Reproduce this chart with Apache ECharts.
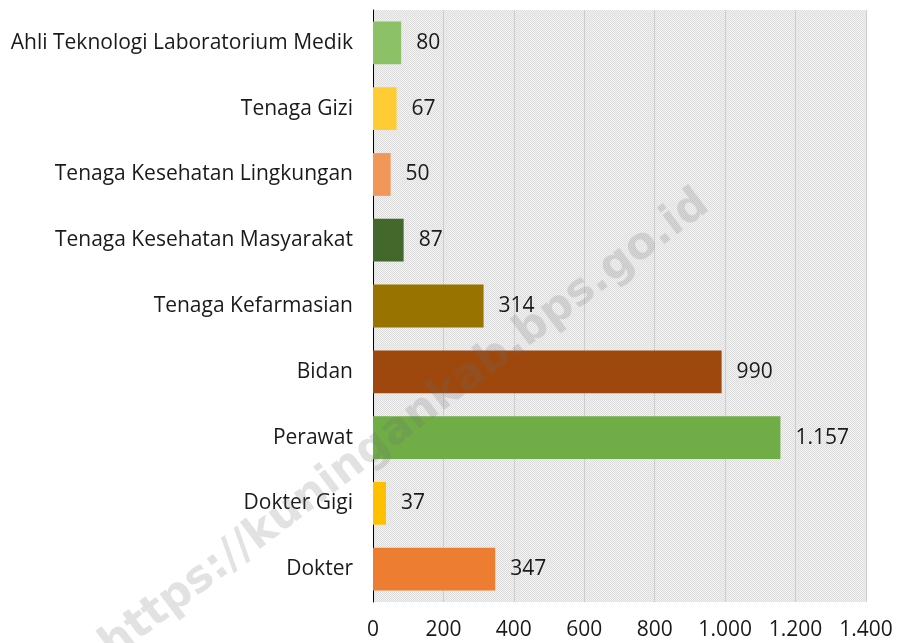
<!DOCTYPE html>
<html>
<head>
<meta charset="utf-8">
<script src="https://cdn.jsdelivr.net/npm/echarts@6/dist/echarts.min.js"></script>
<style>
html,body{margin:0;padding:0;background:#fff;}
#chart{width:897px;height:643px;}
</style>
</head>
<body>
<div id="chart"></div>
<script>
// Data (top to bottom)
const categories = [
  'Ahli Teknologi Laboratorium Medik',
  'Tenaga Gizi',
  'Tenaga Kesehatan Lingkungan',
  'Tenaga Kesehatan Masyarakat',
  'Tenaga Kefarmasian',
  'Bidan',
  'Perawat',
  'Dokter Gigi',
  'Dokter'
];
const values = [80, 67, 50, 87, 314, 990, 1157, 37, 347];
const barColors = ['#8cc168', '#ffcd33', '#f1975a', '#43682b', '#997300', '#9e480e', '#70ad47', '#ffc000', '#ed7d31'];
const xTicks = [0, 200, 400, 600, 800, 1000, 1200, 1400];
const watermarkText = 'https://kuningankab.bps.go.id';

function fmtID(v) {
  return String(v).replace(/\B(?=(\d{3})+(?!\d))/g, '.');
}

// hatch pattern for plot background
const pc = document.createElement('canvas');
pc.width = 4; pc.height = 4;
const pctx = pc.getContext('2d');
pctx.fillStyle = '#f3f3f3';
pctx.fillRect(0, 0, 4, 4);
pctx.fillStyle = '#dcdcdc';
for (let y = 0; y < 4; y++) {
  for (let x = 0; x < 4; x++) {
    if ((x + y) % 2 === 0) pctx.fillRect(x, y, 1, 1);
  }
}

const FONT = '"Open Sans"';
const FS = 21;
const TXT = '#1a1a1a';
const chart = echarts.init(document.getElementById('chart'), null, {renderer: 'canvas'});
chart.setOption({
  animation: false,
  grid: {
    left: 373, right: 31, top: 10, bottom: 41,
    show: true,
    backgroundColor: {image: pc, repeat: 'repeat'},
    borderWidth: 0
  },
  xAxis: {
    type: 'value',
    min: xTicks[0],
    max: xTicks[xTicks.length - 1],
    interval: xTicks[1] - xTicks[0],
    axisLine: {show: false},
    axisTick: {show: false},
    splitLine: {show: true, lineStyle: {color: '#cdcdcd', width: 1}},
    axisLabel: {
      color: TXT, fontFamily: FONT, fontSize: FS, margin: 18,
      formatter: v => fmtID(v)
    }
  },
  yAxis: {
    type: 'category',
    inverse: true,
    data: categories,
    axisLine: {show: true, lineStyle: {color: '#000', width: 1}},
    axisTick: {show: false},
    axisLabel: {color: TXT, fontFamily: FONT, fontSize: FS, margin: 20}
  },
  series: [{
    type: 'bar',
    data: values.map((v, i) => ({value: v, itemStyle: {color: barColors[i]}})),
    barCategoryGap: '35%',
    label: {
      show: true, position: 'right', distance: 15,
      color: TXT, fontFamily: FONT, fontSize: FS,
      formatter: p => fmtID(p.value)
    }
  }],
  graphic: [{
    type: 'text',
    x: 405, y: 425,
    rotation: 37 * Math.PI / 180,
    z: 100,
    style: {
      text: watermarkText,
      font: 'bold 44px "DejaVu Sans"',
      fill: 'rgba(110,110,110,0.2)',
      align: 'center',
      verticalAlign: 'middle'
    }
  }]
});
</script>
</body>
</html>
